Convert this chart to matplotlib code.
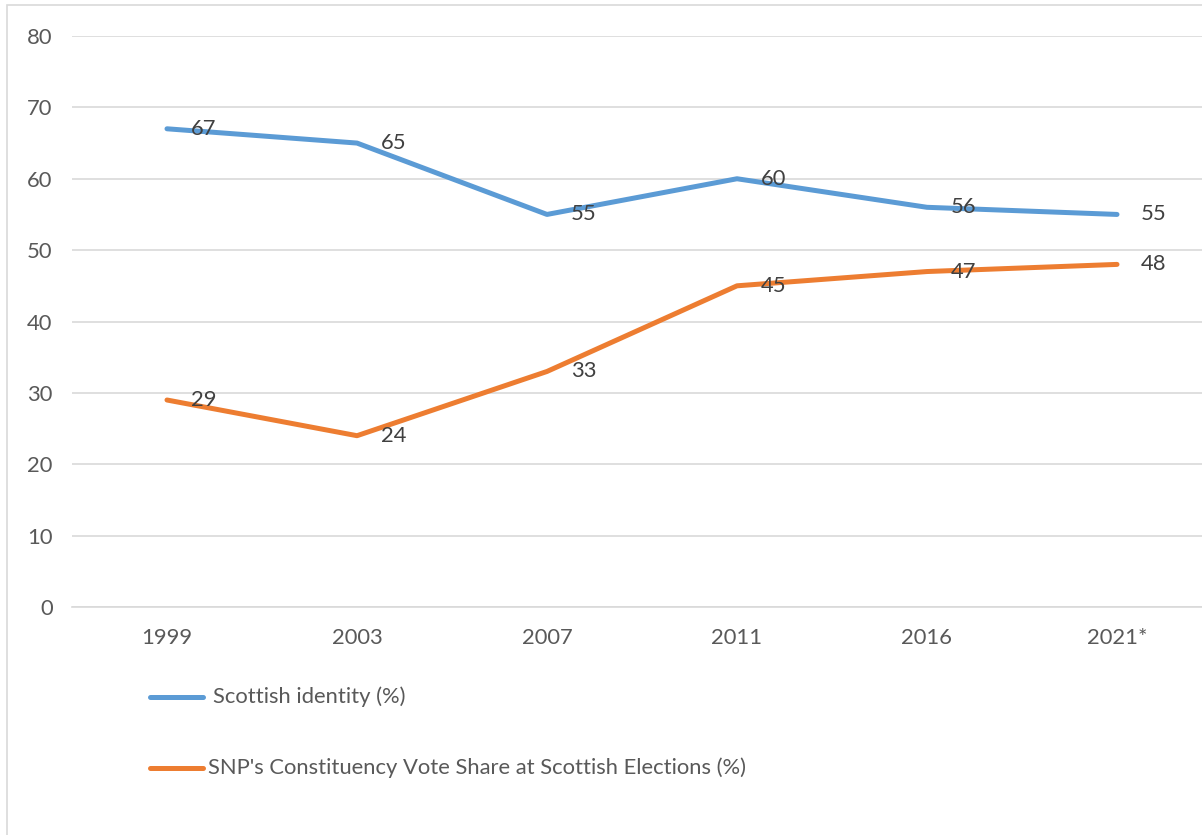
import matplotlib.pyplot as plt
from matplotlib.lines import Line2D
from matplotlib.patches import Rectangle

years = ["1999", "2003", "2007", "2011", "2016", "2021*"]
identity = [67, 65, 55, 60, 56, 55]
snp_vote = [29, 24, 33, 45, 47, 48]
yticks = [0, 10, 20, 30, 40, 50, 60, 70, 80]

series = [
    ("Scottish identity (%)", identity, "#5B9BD5"),
    ("SNP's Constituency Vote Share at Scottish Elections (%)", snp_vote, "#ED7D31"),
]

plt.rcParams['font.family'] = ['Lato', 'DejaVu Sans']
FS = 15.8

W, H = 1202, 835
fig = plt.figure(figsize=(W / 100, H / 100), dpi=100)

# chart area border (only left and top edges fall inside the image)
fig.add_artist(Rectangle((7 / W, -0.1), 1.2, 1.1 - 5 / H, transform=fig.transFigure,
                         fill=False, edgecolor="#D9D9D9", linewidth=1.2))

ax = fig.add_axes([72 / W, (H - 607) / H, 1140 / W, (607 - 36) / H])
x = list(range(len(years)))

for name, vals, color in series:
    ax.plot(x, vals, color=color, linewidth=3.6, solid_capstyle="round",
            solid_joinstyle="round", zorder=3)
    for xi, v in zip(x, vals):
        ax.annotate(str(v), (xi, v), xytext=(17, 0), textcoords="offset points",
                    ha="left", va="center", fontsize=FS, color="#404040", zorder=4)

ax.set_xlim(-0.5, len(years) - 0.5)
ax.set_ylim(0, 80)
ax.set_yticks(yticks)
ax.set_xticks(x)
ax.set_xticklabels(years)
ax.grid(axis="y", color="#D9D9D9", linewidth=1.2)
ax.set_axisbelow(True)
for s in ["top", "right", "left"]:
    ax.spines[s].set_visible(False)
ax.spines["bottom"].set_color("#D9D9D9")
ax.spines["bottom"].set_linewidth(1.2)
ax.tick_params(axis="both", length=0, labelsize=FS, labelcolor="#595959")
ax.tick_params(axis="y", pad=14)
ax.tick_params(axis="x", pad=15)

# legend entries stacked below the plot
legend_rows = [(697, 213), (768, 208)]
for (name, vals, color), (ly, tx) in zip(series, legend_rows):
    fig.add_artist(Line2D([150 / W, 203 / W], [(H - ly) / H] * 2, transform=fig.transFigure,
                          color=color, linewidth=3.6, solid_capstyle="round"))
    fig.text(tx / W, (H - ly) / H, name, ha="left", va="center", fontsize=FS, color="#595959")

fig.savefig("out.png", dpi=100)
